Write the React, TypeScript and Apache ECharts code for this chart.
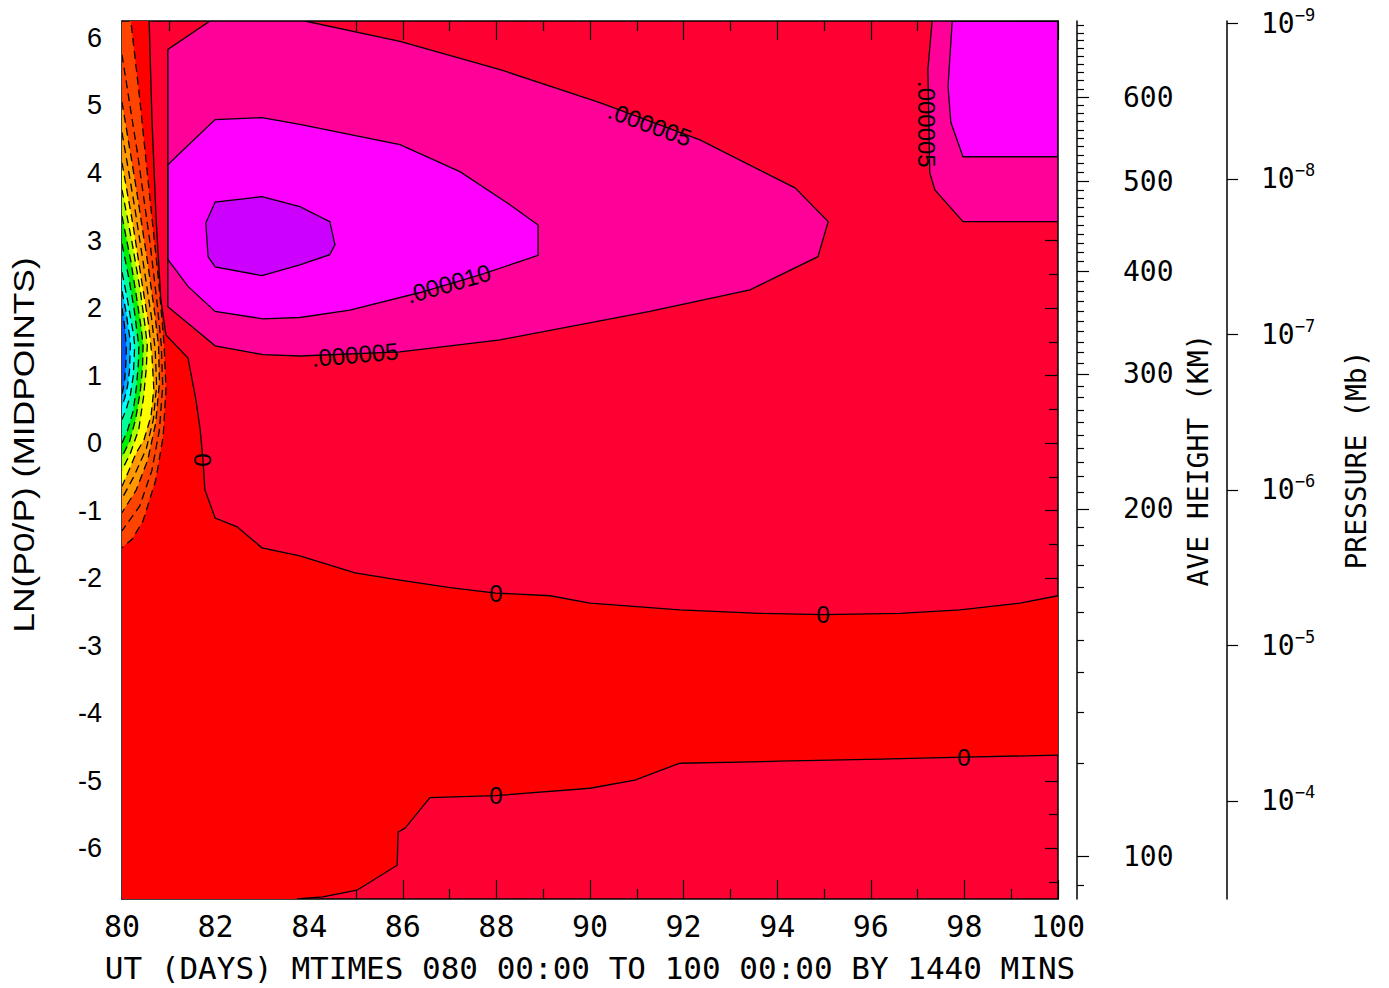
import React, { useEffect, useRef } from 'react';
import * as echarts from 'echarts';

// ---------------- axes ----------------
const DAY_MIN = 80;
const DAY_MAX = 100;
const LNP_MIN = -6.75;
const LNP_MAX = 6.25;
const lnpMajorTicks = [-6, -5, -4, -3, -2, -1, 0, 1, 2, 3, 4, 5, 6];
const lnpMinorTicks = [-6.5, -5.5, -4.5, -3.5, -2.5, -1.5, -0.5, 0.5, 1.5, 2.5, 3.5, 4.5, 5.5];

// AVE HEIGHT (KM) axis: labelled heights and where they sit on the LN(P0/P) scale
const heightLabelsKm = [100, 200, 300, 400, 500, 600];
const heightLabelLnp = [-6.121, -0.973, 1.027, 2.545, 3.879, 5.123];
const heightMinorLnp = [
  6.191, 6.076, 5.96, 5.843, 5.724, 5.606, 5.486, 5.366, 5.244,
  5.003, 4.881, 4.76, 4.639, 4.516, 4.391, 4.267, 4.141, 4.01,
  3.751, 3.622, 3.492, 3.361, 3.23, 3.096, 2.961, 2.825, 2.686,
  2.4, 2.253, 2.105, 1.956, 1.804, 1.652, 1.498, 1.342, 1.185,
  0.849, 0.676, 0.493, 0.305, 0.123, -0.074, -0.281, -0.495, -0.721,
  -1.24, -1.507, -1.803, -2.129, -2.499, -2.914, -3.388, -3.981, -4.736,
  -6.544,
];

// PRESSURE (Mb) axis: ln(P0/P) with P0 = 5e-7 mb
const pressureExponents = [-9, -8, -7, -6, -5, -4];
const P0_MB = 5e-7;
const pressureLnp = pressureExponents.map((e) => Math.log(P0_MB / Math.pow(10, e)));

// ---------------- contour geometry, [day, ln(P0/P)] ----------------
const zeroUpper = [
  [80.58, 6.25], [80.64, 4.79], [80.73, 3.31], [80.83, 2.12], [80.94, 1.6], [81.41, 1.26],
  [81.58, 0.64], [81.67, 0.2], [81.73, -0.25], [81.77, -0.69], [81.99, -1.11], [82.46, -1.24],
  [82.99, -1.55], [83.8, -1.67], [84.98, -1.92], [85.94, -2.03], [87.01, -2.14], [87.99, -2.22],
  [89.15, -2.26], [90.0, -2.37], [91.92, -2.47], [93.63, -2.52], [94.98, -2.54], [96.62, -2.52],
  [97.91, -2.47], [99.19, -2.37], [100, -2.26],
];
const zeroLower = [
  [100, -4.62], [97.99, -4.65], [96.2, -4.68], [94.06, -4.71], [91.92, -4.74], [90.96, -4.99],
  [90.0, -5.11], [87.99, -5.22], [86.58, -5.25], [86.05, -5.7], [85.9, -5.76], [85.88, -6.25],
  [85.02, -6.62], [84.29, -6.72], [83.74, -6.75],
];
const negativeRegion = [[80, 6.25], ...zeroUpper, ...zeroLower, [80, -6.75]];

const pos5Main = [
  [81.88, 6.25], [83.91, 6.25], [85.94, 5.95], [88.08, 5.53], [90.21, 5.04], [92.35, 4.49],
  [94.38, 3.78], [95.09, 3.28], [94.87, 2.76], [93.42, 2.27], [91.28, 1.95], [88.08, 1.53],
  [85.94, 1.35], [83.8, 1.29], [83.01, 1.31], [81.99, 1.44], [80.98, 2.02], [80.98, 5.83],
];
const pos5Right = [
  [97.31, 6.25], [100, 6.25], [100, 3.28], [97.97, 3.28], [97.37, 3.75], [97.26, 4.0], [97.22, 5.53],
];
const pos10Main = [
  [80.98, 4.12], [81.2, 4.27], [81.99, 4.79], [82.99, 4.82], [83.8, 4.72], [85.94, 4.42],
  [87.22, 4.02], [88.29, 3.53], [88.89, 3.23], [88.89, 2.78], [87.65, 2.49], [86.37, 2.23],
  [84.87, 1.97], [83.8, 1.86], [83.01, 1.84], [81.99, 1.95], [81.41, 2.32], [80.98, 2.72],
];
const pos10Right = [
  [97.74, 6.25], [100, 6.25], [100, 4.24], [97.97, 4.24], [97.71, 4.75], [97.65, 5.28],
];
const pos15Main = [
  [81.79, 3.26], [81.99, 3.57], [82.99, 3.65], [83.8, 3.5], [84.44, 3.28], [84.55, 2.94],
  [84.44, 2.79], [83.8, 2.64], [82.99, 2.48], [81.99, 2.61], [81.84, 2.76],
];

// negative (dashed) contours near day 80, outermost first
const neg1 = [[80, 6.25], [80.19, 6.25], [80.38, 5.09], [80.6, 3.6], [80.78, 2.42], [80.9, 1.46], [80.94, 0.8], [80.88, 0.1], [80.72, -0.55], [80.45, -1.15], [80.22, -1.42], [80, -1.55]];
const neg2 = [[80, 5.75], [80.34, 4.25], [80.6, 2.96], [80.76, 2.01], [80.84, 1.45], [80.87, 0.85], [80.8, 0.2], [80.64, -0.4], [80.38, -0.93], [80, -1.3]];
const neg3 = [[80, 5.05], [80.3, 3.79], [80.54, 2.71], [80.7, 1.92], [80.78, 1.45], [80.8, 0.9], [80.72, 0.3], [80.55, -0.25], [80.3, -0.7], [80, -1.03]];
const neg4 = [[80, 4.6], [80.27, 3.5], [80.48, 2.55], [80.63, 1.86], [80.71, 1.38], [80.74, 0.85], [80.67, 0.35], [80.52, -0.08], [80.25, -0.5], [80, -0.82]];
const neg5 = [[80, 4.15], [80.24, 3.21], [80.42, 2.4], [80.56, 1.8], [80.64, 1.3], [80.68, 0.8], [80.62, 0.4], [80.47, 0.05], [80.3, -0.15], [80.15, -0.4], [80, -0.64]];
const neg6 = [[80, 3.75], [80.22, 2.95], [80.39, 2.26], [80.49, 1.75], [80.54, 1.45], [80.52, 1.11], [80.46, 0.68], [80.36, 0.21], [80.18, -0.15], [80, -0.4]];
const neg7 = [[80, 3.36], [80.19, 2.69], [80.32, 2.12], [80.41, 1.7], [80.45, 1.45], [80.44, 1.14], [80.39, 0.76], [80.29, 0.35], [80.16, 0.02], [80, -0.2]];
const neg8 = [[80, 2.95], [80.15, 2.43], [80.26, 1.98], [80.32, 1.65], [80.36, 1.45], [80.35, 1.18], [80.31, 0.84], [80.24, 0.48], [80.12, 0.19], [80, 0.0]];
const neg9 = [[80, 2.53], [80.11, 2.15], [80.19, 1.83], [80.25, 1.59], [80.27, 1.45], [80.26, 1.25], [80.24, 0.99], [80.18, 0.72], [80.09, 0.5], [80, 0.35]];
const neg10 = [[80, 2.25], [80.08, 1.97], [80.13, 1.73], [80.17, 1.55], [80.18, 1.45], [80.17, 1.28], [80.16, 1.07], [80.12, 0.85], [80.06, 0.67], [80, 0.55]];
const neg11 = [[80, 2.0], [80.04, 1.81], [80.07, 1.64], [80.08, 1.52], [80.09, 1.45], [80.09, 1.31], [80.08, 1.15], [80.06, 0.96], [80.03, 0.82], [80, 0.72]];

// contour labels
const labelTexts = ['.000005', '.000010', '.000005', '.000005', '0', '0', '0', '0', '0'];
const labelPositions = [
  [91.28, 4.72], [86.98, 2.36], [84.98, 1.31], [97.2, 4.72], [81.72, -0.25],
  [87.99, -2.22], [94.98, -2.54], [97.99, -4.65], [87.99, -5.22],
];
const labelAnglesDeg = [-20, 16, 5, -90, 90, 0, 0, 0, 0];

// ---------------- styles ----------------
const MONO = 'DejaVu Sans Mono, Liberation Mono, monospace';
const SANS = 'Liberation Sans, Arial, Helvetica, sans-serif';

const fillLayers = [
  { pts: negativeRegion, color: '#FF0000' },
  { pts: pos5Main, color: '#FF0099' },
  { pts: pos5Right, color: '#FF0099' },
  { pts: pos10Main, color: '#FF00FF' },
  { pts: pos10Right, color: '#FF00FF' },
  { pts: pos15Main, color: '#CC00FF' },
  { pts: neg1, color: '#FF4400' },
  { pts: neg3, color: '#FF9900' },
  { pts: neg5, color: '#FFFF00' },
  { pts: neg6, color: '#AAFF00' },
  { pts: neg7, color: '#00F000' },
  { pts: neg8, color: '#00FF99' },
  { pts: neg9, color: '#00FFFF' },
  { pts: neg10, color: '#00AAFF' },
  { pts: neg11, color: '#0055FF' },
];

const lineLayers = [
  { pts: zeroUpper, dashed: false, closed: false },
  { pts: zeroLower, dashed: false, closed: false },
  { pts: pos5Main, dashed: false, closed: true },
  { pts: pos5Right, dashed: false, closed: true },
  { pts: pos10Main, dashed: false, closed: true },
  { pts: pos10Right, dashed: false, closed: true },
  { pts: pos15Main, dashed: false, closed: true },
  { pts: neg1, dashed: true, closed: false },
  { pts: neg2, dashed: true, closed: false },
  { pts: neg3, dashed: true, closed: false },
  { pts: neg4, dashed: true, closed: false },
  { pts: neg5, dashed: true, closed: false },
  { pts: neg6, dashed: true, closed: false },
  { pts: neg7, dashed: true, closed: false },
  { pts: neg8, dashed: true, closed: false },
  { pts: neg9, dashed: true, closed: false },
  { pts: neg10, dashed: true, closed: false },
  { pts: neg11, dashed: true, closed: false },
];

function nearestLabel(v: number, positions: number[], labels: (string | number)[]) {
  for (let i = 0; i < positions.length; i++) {
    if (Math.abs(positions[i] - v) < 1e-4) return String(labels[i]);
  }
  return '';
}

export default function App() {
  const ref = useRef<HTMLDivElement>(null);

  useEffect(() => {
    if (!ref.current) return;
    const chart = echarts.init(ref.current, undefined, { renderer: 'svg' });

    const black = { color: '#000', width: 1.5 };
    const tickStyle = { color: '#000', width: 1.2 };

    const option: any = {
      animation: false,
      backgroundColor: '#ffffff',
      grid: {
        left: 122, right: 331, top: 21, bottom: 89,
        show: true, backgroundColor: '#FF0033', borderWidth: 0,
      },
      xAxis: [
        {
          type: 'value', min: DAY_MIN, max: DAY_MAX, interval: 2, position: 'bottom',
          axisLine: { show: true, onZero: false, lineStyle: black },
          axisTick: { show: true, inside: true, length: 19, lineStyle: tickStyle },
          minorTick: { show: true, splitNumber: 2, length: 10, lineStyle: tickStyle },
          splitLine: { show: false },
          axisLabel: { fontFamily: MONO, fontSize: 30, color: '#000', margin: 12 },
          name: 'UT (DAYS) MTIMES 080 00:00 TO 100 00:00 BY 1440 MINS',
          nameLocation: 'middle', nameGap: 53,
          nameTextStyle: { fontFamily: MONO, fontSize: 31, color: '#000' },
        },
        {
          type: 'value', min: DAY_MIN, max: DAY_MAX, interval: 2, position: 'top',
          axisLine: { show: true, onZero: false, lineStyle: black },
          axisTick: { show: true, inside: true, length: 19, lineStyle: tickStyle },
          minorTick: { show: true, splitNumber: 2, length: 10, lineStyle: tickStyle },
          splitLine: { show: false },
          axisLabel: { show: false },
        },
      ],
      yAxis: [
        {
          type: 'value', min: LNP_MIN, max: LNP_MAX, position: 'left',
          axisLine: { show: true, onZero: false, lineStyle: black },
          axisTick: { show: true, inside: true, length: 13, customValues: lnpMajorTicks, lineStyle: tickStyle },
          axisLabel: { customValues: lnpMajorTicks, fontFamily: SANS, fontSize: 27, color: '#000', margin: 20 },
          splitLine: { show: false },
        },
        {
          type: 'value', min: LNP_MIN, max: LNP_MAX, position: 'left',
          axisLine: { show: false },
          axisTick: { show: true, inside: true, length: 9, customValues: lnpMinorTicks, lineStyle: tickStyle },
          axisLabel: { show: false },
          splitLine: { show: false },
        },
        {
          type: 'value', min: LNP_MIN, max: LNP_MAX, position: 'right',
          axisLine: { show: true, onZero: false, lineStyle: black },
          axisTick: { show: true, inside: true, length: 13, customValues: lnpMajorTicks, lineStyle: tickStyle },
          axisLabel: { show: false },
          splitLine: { show: false },
        },
        {
          type: 'value', min: LNP_MIN, max: LNP_MAX, position: 'right',
          axisLine: { show: false },
          axisTick: { show: true, inside: true, length: 9, customValues: lnpMinorTicks, lineStyle: tickStyle },
          axisLabel: { show: false },
          splitLine: { show: false },
        },
        {
          type: 'value', min: LNP_MIN, max: LNP_MAX, position: 'right', offset: 19,
          axisLine: { show: true, onZero: false, lineStyle: black },
          axisTick: { show: true, inside: false, length: 12, customValues: heightLabelLnp, lineStyle: tickStyle },
          axisLabel: {
            customValues: heightLabelLnp, fontFamily: MONO, fontSize: 28, color: '#000', margin: 46,
            formatter: (v: number) => nearestLabel(v, heightLabelLnp, heightLabelsKm),
          },
          splitLine: { show: false },
          name: 'AVE HEIGHT (KM)', nameLocation: 'middle', nameRotate: 90, nameGap: 96,
          nameTextStyle: { fontFamily: MONO, fontSize: 28, color: '#000' },
        },
        {
          type: 'value', min: LNP_MIN, max: LNP_MAX, position: 'right', offset: 19,
          axisLine: { show: false },
          axisTick: { show: true, inside: false, length: 7, customValues: heightMinorLnp, lineStyle: tickStyle },
          axisLabel: { show: false },
          splitLine: { show: false },
        },
        {
          type: 'value', min: LNP_MIN, max: LNP_MAX, position: 'right', offset: 169,
          axisLine: { show: true, onZero: false, lineStyle: black },
          axisTick: { show: true, inside: false, length: 11, customValues: pressureLnp, lineStyle: tickStyle },
          axisLabel: {
            customValues: pressureLnp, margin: 34,
            formatter: (v: number) => {
              const e = Math.round(Math.log10(P0_MB) - v / Math.LN10);
              return '{b|10}{s|\u2212' + String(-e) + '}';
            },
            rich: {
              b: { fontFamily: MONO, fontSize: 28, color: '#000', lineHeight: 34 },
              s: { fontFamily: MONO, fontSize: 17, color: '#000', lineHeight: 17, verticalAlign: 'top' },
            },
          },
          splitLine: { show: false },
          name: 'PRESSURE (Mb)', nameLocation: 'middle', nameRotate: 90, nameGap: 115,
          nameTextStyle: { fontFamily: MONO, fontSize: 28, color: '#000' },
        },
      ],
      graphic: [
        {
          type: 'text', x: 23, y: 445, rotation: Math.PI / 2, scaleX: 1.18,
          style: { text: 'LN(P0/P) (MIDPOINTS)', fontFamily: SANS, fontSize: 30, fill: '#000', align: 'center', verticalAlign: 'middle' },
        },
      ],
      series: [
        {
          type: 'custom', name: 'fills', clip: true, z: 2,
          data: fillLayers.map((l) => l.pts[0]),
          renderItem: (params: any, api: any) => {
            const layer = fillLayers[params.dataIndex];
            return {
              type: 'polygon',
              shape: { points: layer.pts.map((p) => api.coord(p)) },
              style: { fill: layer.color, stroke: null },
            };
          },
        },
        {
          type: 'custom', name: 'contours', clip: true, z: 3,
          data: lineLayers.map((l) => l.pts[0]),
          renderItem: (params: any, api: any) => {
            const layer = lineLayers[params.dataIndex];
            return {
              type: layer.closed ? 'polygon' : 'polyline',
              shape: { points: layer.pts.map((p) => api.coord(p)) },
              style: {
                fill: null, stroke: '#000', lineWidth: 1.3,
                lineDash: layer.dashed ? [8, 5] : null,
              },
            };
          },
        },
        {
          type: 'custom', name: 'labels', clip: false, z: 4,
          data: labelPositions,
          renderItem: (params: any, api: any) => {
            const i = params.dataIndex;
            const c = api.coord(labelPositions[i]);
            return {
              type: 'text', x: c[0], y: c[1], rotation: (labelAnglesDeg[i] * Math.PI) / 180,
              style: {
                text: labelTexts[i], fontFamily: SANS, fontSize: 24, fill: '#000',
                align: 'center', verticalAlign: 'middle',
              },
            };
          },
        },
      ],
    };

    chart.setOption(option);
    return () => chart.dispose();
  }, []);

  return (
    <div
      ref={ref}
      style={{ position: 'absolute', left: 0, top: 0, width: 1389, height: 988, background: '#fff' }}
    />
  );
}
